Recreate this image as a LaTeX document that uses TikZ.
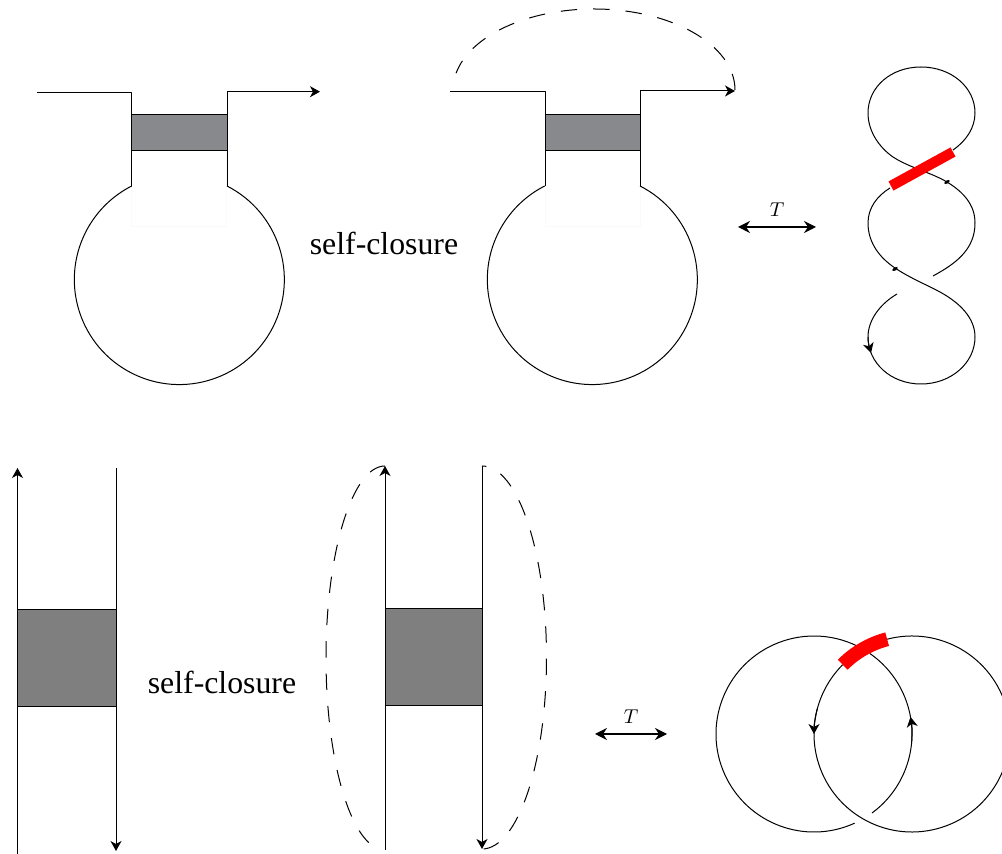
\documentclass[tikz,border=0pt]{standalone}
\usepackage{fontspec}
\usetikzlibrary{arrows.meta}
\newfontfamily\closefont{Liberation Serif}
\definecolor{neckgray}{HTML}{88898C}
\definecolor{bargray}{HTML}{7F7F7F}
\tikzset{
	loopdash/.style={dash pattern=on 8.2pt off 8pt},
	twoway/.style={{Stealth[length=6pt, width=6pt, inset=2pt]}-{Stealth[length=6pt, width=6pt, inset=2pt]}, semithick},
	redbar/.style={red, line width=5.2pt},
	ghostline/.style={draw=black!2},
	closetext/.style={font=\closefont\fontsize{15.9}{18}\selectfont},
	maplabel/.style={above=1.5pt, font=\normalsize}
}
\begin{document}
\begin{tikzpicture}[x=0.5pt, y=-0.5pt, line width=0.5pt, line join=round, >={Stealth[length=5pt, width=5.5pt, inset=1.5pt]}]
		\clip (0,0) rectangle (1002,854);
		% top left
		\draw[ghostline] (131,151) rectangle (226,227);
		\draw[fill=neckgray] (131,114.5) rectangle (227,151);
		\draw[->] (227,186) -- (227,91.7) -- (320,91.7);
		\draw (37,92.3) -- (131,92.3) -- (131,186);
		\draw (227,186) arc[start angle=-63, end angle=243, radius=105];
		\node[closetext] (closeA) at (384,243) {self-closure};
		% top middle
		\draw[ghostline] (545,150) rectangle (640,227);
		\draw[fill=neckgray] (545,114.3) rectangle (640,150.5);
		\draw[->] (640,186) -- (640,91) -- (735,91);
		\draw (450,92) -- (545,92) -- (545,186);
		\draw (640,186) arc[start angle=-63, end angle=243, radius=105];
		\draw[loopdash] (735,90) arc[start angle=0, end angle=-168, x radius=141, y radius=81];
		\coordinate (tAl) at (738,227);
		\coordinate (tAr) at (816,227);
		\draw[twoway] (tAl) -- node[maplabel] (tA) {$T$} (tAr);
		% twisted band
		\draw (953,150) .. controls (966,141) and (975,128) .. (975,113)
			.. controls (975,87) and (951,67) .. (921,67)
			.. controls (891,67) and (868,87) .. (868,113)
			.. controls (868,132) and (880,148) .. (893,157)
			.. controls (910,168) and (930,172) .. (947,182)
			.. controls (965,193) and (975,206) .. (975,223)
			.. controls (975,250) and (955,264) .. (933,276);
		\draw (890,188) .. controls (877,196) and (868,208) .. (868,223)
			.. controls (868,243) and (880,258) .. (895,268)
			.. controls (910,278) and (925,284) .. (940,292)
			.. controls (960,303) and (975,318) .. (975,337)
			.. controls (975,363) and (951,384) .. (921,384)
			.. controls (891,384) and (868,363) .. (868,337)
			.. controls (868,320) and (880,304) .. (897,294);
		\draw[->] (868,337) .. controls (868,341) and (869,346) .. (871,353);
		\fill[rotate around={30:(947,182)}] (947,182) ellipse[x radius=3, y radius=1.5];
		\fill[rotate around={30:(895,269)}] (895,269) ellipse[x radius=3, y radius=1.5];
		\draw[redbar] (891,186) -- (953,152);
		% bottom left
		\draw[fill=bargray] (17.5,610) rectangle (116,707);
		\draw[->] (17.5,854) -- (17.5,468);
		\draw[->] (116,468) -- (116,851);
		\node[closetext] (closeB) at (222,682) {self-closure};
		% bottom middle
		\draw[fill=bargray] (385,608.5) rectangle (482,706);
		\draw[->] (385,850) -- (385,466);
		\draw[->] (482,466) -- (482,849);
		\draw[loopdash] (385,466) arc[start angle=-90, end angle=-254, x radius=59, y radius=192];
		\draw[loopdash, dash phase=6pt] (482,466) arc[start angle=-90, end angle=90, x radius=64.5, y radius=191.5];
		\coordinate (tBl) at (595,734);
		\coordinate (tBr) at (667,734);
		\draw[twoway] (tBl) -- node[maplabel] (tB) {$T$} (tBr);
		% linked circles
		\draw (814,734) ++(65.5:98) arc[start angle=65.5, end angle=296, radius=98];
		\draw (814,734) ++(53.7:98) arc[start angle=53.7, end angle=-55.3, radius=98];
		\draw (912,734) ++(-104.7:98) arc[start angle=-104.7, end angle=225, radius=98];
		\draw[->] (814,734) ++(5:98) arc[start angle=5, end angle=-10, radius=98];
		\draw[->] (912,734) ++(195:98) arc[start angle=195, end angle=180, radius=98];
		\draw[redbar, line width=7pt] (912,734) ++(-135:98) arc[start angle=-135, end angle=-104.7, radius=98];
	\end{tikzpicture}
\end{document}
